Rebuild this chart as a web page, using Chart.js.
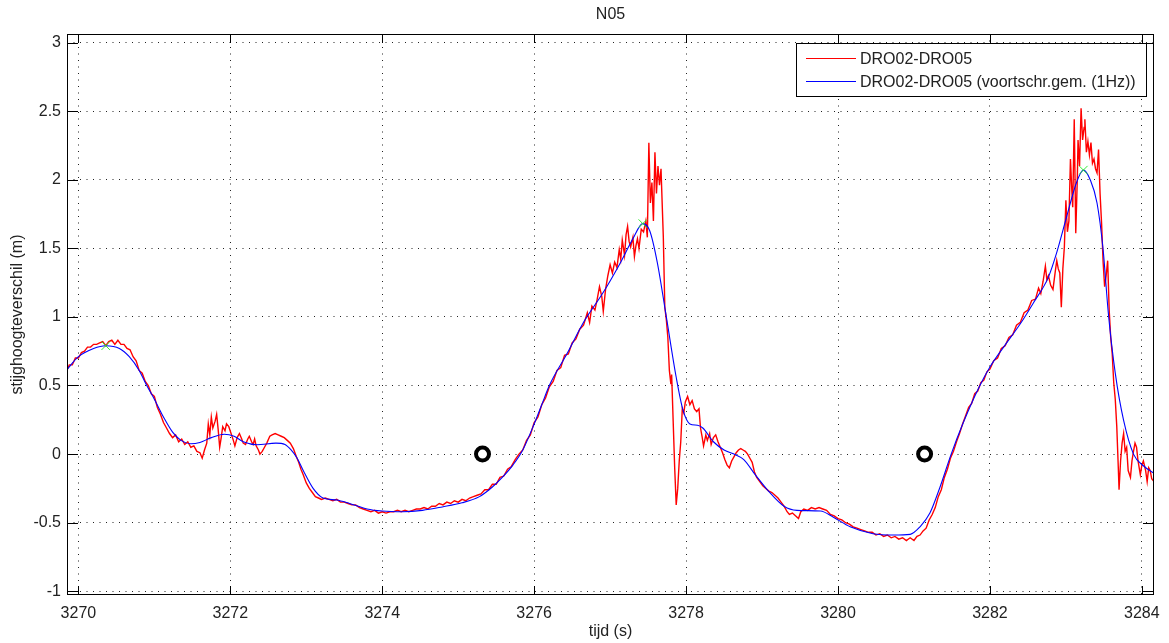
<!DOCTYPE html>
<html>
<head>
<meta charset="utf-8">
<script src="https://cdn.jsdelivr.net/npm/chart.js@4.4.1/dist/chart.umd.min.js"></script>
<style>
  html, body { margin: 0; padding: 0; background: #fff; }
  #wrap { width: 1169px; height: 643px; }
</style>
</head>
<body>
<div id="wrap"><canvas id="c" width="1169" height="643"></canvas></div>
<script>
// tick labels
const xTicks = [3270, 3272, 3274, 3276, 3278, 3280, 3282, 3284];
const yTicks = [-1, -0.5, 0, 0.5, 1, 1.5, 2, 2.5, 3];

// DRO02-DRO05, raw signal
const redT = [
  3269.84, 3269.88, 3269.92, 3269.96, 3270.00, 3270.04, 3270.08, 3270.12, 3270.16, 3270.20,
  3270.24, 3270.28, 3270.32, 3270.36, 3270.40, 3270.44, 3270.48, 3270.52, 3270.56, 3270.60,
  3270.64, 3270.68, 3270.72, 3270.76, 3270.80, 3270.84, 3270.88, 3270.92, 3270.96, 3271.00,
  3271.04, 3271.08, 3271.12, 3271.16, 3271.20, 3271.24, 3271.28, 3271.32, 3271.36, 3271.40,
  3271.44, 3271.48, 3271.52, 3271.56, 3271.60, 3271.63, 3271.66, 3271.69, 3271.71, 3271.73,
  3271.75, 3271.77, 3271.80, 3271.82, 3271.84, 3271.86, 3271.88, 3271.90, 3271.93, 3271.95,
  3271.98, 3272.01, 3272.04, 3272.06, 3272.09, 3272.12, 3272.15, 3272.17, 3272.20, 3272.23,
  3272.25, 3272.28, 3272.30, 3272.32, 3272.34, 3272.37, 3272.39, 3272.42, 3272.45, 3272.48,
  3272.52, 3272.55, 3272.59, 3272.63, 3272.67, 3272.71, 3272.75, 3272.79, 3272.83, 3272.87,
  3272.90, 3272.93, 3272.96, 3273.00, 3273.04, 3273.08, 3273.12, 3273.16, 3273.20, 3273.25,
  3273.30, 3273.35, 3273.40, 3273.45, 3273.50, 3273.55, 3273.60, 3273.65, 3273.70, 3273.75,
  3273.80, 3273.85, 3273.90, 3273.95, 3274.00, 3274.05, 3274.10, 3274.15, 3274.20, 3274.25,
  3274.30, 3274.35, 3274.40, 3274.45, 3274.50, 3274.55, 3274.60, 3274.65, 3274.70, 3274.75,
  3274.80, 3274.85, 3274.90, 3274.95, 3275.00, 3275.05, 3275.10, 3275.15, 3275.20, 3275.25,
  3275.30, 3275.35, 3275.40, 3275.45, 3275.50, 3275.55, 3275.60, 3275.65, 3275.70, 3275.75,
  3275.80, 3275.85, 3275.90, 3275.95, 3276.00, 3276.05, 3276.10, 3276.15, 3276.20, 3276.25,
  3276.30, 3276.35, 3276.40, 3276.45, 3276.50, 3276.55, 3276.60, 3276.65, 3276.70, 3276.73,
  3276.76, 3276.80, 3276.83, 3276.86, 3276.89, 3276.91, 3276.94, 3276.97, 3277.00, 3277.03,
  3277.06, 3277.09, 3277.12, 3277.14, 3277.16, 3277.19, 3277.21, 3277.23, 3277.25, 3277.27,
  3277.30, 3277.32, 3277.34, 3277.36, 3277.38, 3277.41, 3277.44, 3277.47, 3277.49, 3277.51,
  3277.53, 3277.55, 3277.57, 3277.59, 3277.61, 3277.63, 3277.65, 3277.67, 3277.69, 3277.70,
  3277.72, 3277.74, 3277.76, 3277.78, 3277.80, 3277.81, 3277.83, 3277.85, 3277.87, 3277.89,
  3277.91, 3277.93, 3277.95, 3277.97, 3277.99, 3278.02, 3278.05, 3278.08, 3278.11, 3278.14,
  3278.17, 3278.19, 3278.21, 3278.23, 3278.26, 3278.28, 3278.31, 3278.33, 3278.36, 3278.39,
  3278.42, 3278.45, 3278.48, 3278.51, 3278.54, 3278.57, 3278.60, 3278.63, 3278.66, 3278.69,
  3278.72, 3278.75, 3278.78, 3278.81, 3278.84, 3278.87, 3278.90, 3278.93, 3278.97, 3279.01,
  3279.05, 3279.09, 3279.13, 3279.17, 3279.21, 3279.25, 3279.29, 3279.33, 3279.36, 3279.40,
  3279.44, 3279.48, 3279.51, 3279.55, 3279.60, 3279.65, 3279.70, 3279.75, 3279.80, 3279.85,
  3279.90, 3279.95, 3280.00, 3280.05, 3280.10, 3280.15, 3280.20, 3280.25, 3280.30, 3280.35,
  3280.40, 3280.45, 3280.50, 3280.55, 3280.60, 3280.65, 3280.70, 3280.75, 3280.80, 3280.85,
  3280.90, 3280.95, 3281.00, 3281.04, 3281.08, 3281.12, 3281.16, 3281.20, 3281.24, 3281.28,
  3281.32, 3281.36, 3281.40, 3281.44, 3281.48, 3281.52, 3281.56, 3281.60, 3281.64, 3281.68,
  3281.72, 3281.76, 3281.80, 3281.84, 3281.88, 3281.92, 3281.96, 3282.00, 3282.05, 3282.10,
  3282.15, 3282.20, 3282.25, 3282.30, 3282.35, 3282.40, 3282.45, 3282.50, 3282.55, 3282.60,
  3282.64, 3282.67, 3282.70, 3282.73, 3282.75, 3282.77, 3282.80, 3282.83, 3282.86, 3282.88,
  3282.90, 3282.92, 3282.94, 3282.96, 3282.98, 3283.00, 3283.02, 3283.04, 3283.06, 3283.08,
  3283.09, 3283.11, 3283.13, 3283.15, 3283.16, 3283.18, 3283.20, 3283.22, 3283.24, 3283.25,
  3283.27, 3283.29, 3283.31, 3283.33, 3283.35, 3283.37, 3283.39, 3283.41, 3283.43, 3283.45,
  3283.47, 3283.49, 3283.51, 3283.53, 3283.55, 3283.57, 3283.59, 3283.61, 3283.63, 3283.65,
  3283.67, 3283.69, 3283.70, 3283.72, 3283.74, 3283.76, 3283.78, 3283.80, 3283.82, 3283.85,
  3283.87, 3283.89, 3283.91, 3283.93, 3283.95, 3283.98, 3284.00, 3284.02, 3284.05, 3284.07,
  3284.09, 3284.11, 3284.13, 3284.16
];
const redV = [
  0.60, 0.65, 0.65, 0.70, 0.70, 0.74, 0.75, 0.78, 0.78, 0.80,
  0.80, 0.81, 0.82, 0.79, 0.82, 0.83, 0.80, 0.83, 0.80, 0.80,
  0.77, 0.76, 0.71, 0.68, 0.61, 0.59, 0.53, 0.50, 0.44, 0.42,
  0.34, 0.29, 0.23, 0.19, 0.15, 0.12, 0.14, 0.09, 0.11, 0.07,
  0.09, 0.05, 0.06, 0.02, 0.01, -0.03, 0.03, 0.08, 0.22, 0.14,
  0.27, 0.19, 0.24, 0.29, 0.18, 0.05, 0.12, 0.20, 0.17, 0.22,
  0.20, 0.15, 0.10, 0.06, 0.12, 0.15, 0.11, 0.08, 0.07, 0.11,
  0.13, 0.09, 0.07, 0.11, 0.06, 0.03, 0.00, 0.02, 0.05, 0.08,
  0.13, 0.14, 0.15, 0.14, 0.13, 0.12, 0.10, 0.08, 0.04, -0.02,
  -0.06, -0.11, -0.15, -0.21, -0.25, -0.28, -0.31, -0.32, -0.33, -0.32,
  -0.33, -0.34, -0.33, -0.35, -0.35, -0.36, -0.37, -0.37, -0.39, -0.40,
  -0.41, -0.42, -0.41, -0.43, -0.42, -0.43, -0.42, -0.42, -0.41, -0.42,
  -0.41, -0.42, -0.41, -0.40, -0.40, -0.39, -0.40, -0.38, -0.38, -0.36,
  -0.37, -0.35, -0.36, -0.34, -0.35, -0.33, -0.34, -0.32, -0.31, -0.30,
  -0.29, -0.26, -0.26, -0.22, -0.22, -0.17, -0.16, -0.11, -0.09, -0.04,
  0.00, 0.03, 0.10, 0.14, 0.23, 0.27, 0.36, 0.41, 0.49, 0.53,
  0.61, 0.63, 0.72, 0.73, 0.81, 0.84, 0.91, 0.94, 1.03, 0.96,
  1.08, 1.05, 1.13, 1.22, 1.15, 1.04, 1.20, 1.30, 1.38, 1.32,
  1.40, 1.36, 1.49, 1.42, 1.56, 1.45, 1.60, 1.66, 1.55, 1.51,
  1.58, 1.44, 1.52, 1.57, 1.50, 1.64, 1.62, 1.70, 1.58, 2.27,
  1.83, 1.98, 1.70, 2.20, 1.90, 2.10, 1.96, 2.08, 1.75, 1.59,
  1.07, 0.98, 0.85, 0.61, 0.51, 0.58, 0.24, -0.10, -0.37, -0.25,
  -0.05, 0.09, 0.33, 0.30, 0.38, 0.42, 0.36, 0.39, 0.33, 0.31,
  0.33, 0.19, 0.13, 0.06, 0.14, 0.10, 0.15, 0.07, 0.12, 0.14,
  0.09, 0.05, 0.01, -0.04, -0.08, -0.10, -0.05, -0.02, 0.01, 0.03,
  0.04, 0.03, 0.02, 0.00, -0.03, -0.06, -0.13, -0.17, -0.20, -0.23,
  -0.25, -0.27, -0.28, -0.30, -0.32, -0.35, -0.38, -0.42, -0.44, -0.43,
  -0.45, -0.47, -0.42, -0.40, -0.41, -0.39, -0.40, -0.39, -0.40, -0.41,
  -0.44, -0.45, -0.47, -0.48, -0.50, -0.51, -0.53, -0.54, -0.55, -0.56,
  -0.57, -0.57, -0.59, -0.58, -0.60, -0.59, -0.61, -0.60, -0.62, -0.61,
  -0.63, -0.61, -0.63, -0.60, -0.59, -0.56, -0.54, -0.48, -0.44, -0.39,
  -0.31, -0.26, -0.17, -0.11, -0.03, 0.02, 0.09, 0.15, 0.22, 0.28,
  0.34, 0.37, 0.44, 0.46, 0.52, 0.54, 0.60, 0.62, 0.68, 0.70,
  0.77, 0.79, 0.85, 0.87, 0.94, 0.96, 1.03, 1.05, 1.12, 1.13,
  1.21, 1.17, 1.26, 1.37, 1.27, 1.30, 1.23, 1.20, 1.33, 1.41,
  1.35, 1.32, 1.07, 1.35, 1.51, 1.85, 1.62, 1.70, 2.15, 1.90,
  1.80, 2.44, 1.61, 2.00, 2.29, 2.10, 2.52, 2.29, 2.38, 2.44,
  2.20, 2.28, 2.18, 2.27, 2.12, 2.15, 2.08, 2.05, 2.22, 1.90,
  1.68, 1.40, 1.22, 1.30, 1.41, 1.05, 0.85, 0.73, 0.52, 0.40,
  0.20, -0.10, -0.26, -0.05, 0.08, 0.15, 0.02, 0.05, -0.12, -0.17,
  -0.05, 0.02, 0.08, 0.05, -0.05, -0.15, -0.08, -0.05, -0.12, -0.20,
  -0.10, -0.12, -0.18, -0.20
];

// DRO02-DRO05 moving average (1Hz)
const blueT = [
  3269.84, 3270.00, 3270.20, 3270.36, 3270.54, 3270.67, 3270.80, 3270.90, 3271.00, 3271.12,
  3271.24, 3271.35, 3271.48, 3271.60, 3271.75, 3271.92, 3272.05, 3272.17, 3272.35, 3272.60,
  3272.72, 3272.80, 3272.88, 3272.96, 3273.09, 3273.22, 3273.40, 3273.57, 3273.80, 3274.00,
  3274.27, 3274.53, 3274.79, 3275.05, 3275.28, 3275.45, 3275.58, 3275.72, 3275.85, 3276.00,
  3276.10, 3276.20, 3276.43, 3276.66, 3276.90, 3277.13, 3277.30, 3277.43, 3277.52, 3277.62,
  3277.74, 3277.87, 3277.96, 3278.05, 3278.15, 3278.22, 3278.36, 3278.50, 3278.65, 3278.76,
  3278.91, 3279.07, 3279.29, 3279.46, 3279.77, 3279.94, 3280.16, 3280.46, 3280.73, 3280.95,
  3281.08, 3281.21, 3281.34, 3281.49, 3281.65, 3281.85, 3282.00, 3282.18, 3282.40, 3282.57,
  3282.77, 3282.88, 3283.01, 3283.14, 3283.23, 3283.32, 3283.41, 3283.49, 3283.56, 3283.65,
  3283.76, 3283.89, 3284.02, 3284.16
];
const blueV = [
  0.61, 0.71, 0.77, 0.79, 0.77, 0.71, 0.61, 0.50, 0.40, 0.27,
  0.16, 0.10, 0.075, 0.085, 0.12, 0.145, 0.13, 0.09, 0.068, 0.08,
  0.07, 0.03, -0.03, -0.12, -0.25, -0.32, -0.335, -0.36, -0.40, -0.415,
  -0.42, -0.41, -0.385, -0.355, -0.31, -0.24, -0.17, -0.08, 0.03, 0.22,
  0.36, 0.50, 0.73, 0.97, 1.17, 1.39, 1.57, 1.68, 1.63, 1.40,
  1.00, 0.56, 0.32, 0.22, 0.21, 0.19, 0.09, 0.03, -0.005, -0.04,
  -0.15, -0.26, -0.38, -0.41, -0.415, -0.46, -0.53, -0.58, -0.59, -0.585,
  -0.53, -0.43, -0.245, 0.0, 0.23, 0.48, 0.635, 0.78, 0.95, 1.10,
  1.29, 1.47, 1.73, 1.98, 2.07, 2.00, 1.83, 1.49, 1.02, 0.59,
  0.245, 0.0, -0.085, -0.14
];

// peak markers (green x) and reference markers (black rings)
const peakT = [3270.36, 3277.43, 3283.23];
const peakV = [0.79, 1.68, 2.07];
const ringT = [3275.32, 3281.14];
const ringV = [0, 0];

const FONT = '"Liberation Sans", Arial, Helvetica, sans-serif';
const TEXT = '#222';

function pts(ts, vs) {
  return ts.map((t, i) => ({ x: t, y: vs[i] }));
}

class MatlabChart {
  constructor(canvasId) {
    this.canvasId = canvasId;
    this.chart = null;
  }

  // box, inward ticks, legend and titles drawn on top
  framePlugin() {
    return {
      id: 'matlabFrame',
      afterDraw(chart) {
        const { ctx, chartArea: a, scales } = chart;
        const sx = scales.x, sy = scales.y;
        ctx.save();
        ctx.strokeStyle = '#000';
        ctx.lineWidth = 1;
        ctx.beginPath();
        xTicks.forEach(v => {
          const px = Math.round(sx.getPixelForValue(v)) + 0.5;
          ctx.moveTo(px, a.bottom); ctx.lineTo(px, a.bottom - 9);
          ctx.moveTo(px, a.top); ctx.lineTo(px, a.top + 9);
        });
        yTicks.forEach(v => {
          const py = Math.round(sy.getPixelForValue(v)) + 0.5;
          ctx.moveTo(a.left, py); ctx.lineTo(a.left + 11, py);
          ctx.moveTo(a.right, py); ctx.lineTo(a.right - 11, py);
        });
        ctx.stroke();
        ctx.strokeRect(a.left + 0.5, a.top + 0.5, a.width - 1, a.height - 1);

        // legend (red raw signal first, then the average)
        const lx = 796, ly = 43, lw = 350, lh = 53;
        ctx.fillStyle = '#fff';
        ctx.fillRect(lx, ly, lw, lh);
        ctx.strokeRect(lx + 0.5, ly + 0.5, lw, lh);
        ctx.font = '16px ' + FONT;
        ctx.textBaseline = 'middle';
        ctx.textAlign = 'left';
        const items = chart.data.datasets
          .filter(d => d.legendIndex !== undefined)
          .sort((p, q) => p.legendIndex - q.legendIndex);
        items.forEach((d, i) => {
          const yy = 58.5 + i * 23;
          ctx.strokeStyle = d.borderColor;
          ctx.beginPath();
          ctx.moveTo(806, yy); ctx.lineTo(856, yy);
          ctx.stroke();
          ctx.fillStyle = TEXT;
          ctx.fillText(d.label, 860, yy + 1);
        });

        // titles
        ctx.fillStyle = TEXT;
        ctx.textAlign = 'center';
        ctx.fillText('N05', (a.left + a.right) / 2, 15);
        ctx.fillText('tijd (s)', (a.left + a.right) / 2, 632);
        ctx.translate(18, (a.top + a.bottom) / 2);
        ctx.rotate(-Math.PI / 2);
        ctx.fillText('stijghoogteverschil (m)', 0, 0);
        ctx.restore();
      }
    };
  }

  render() {
    const ctx = document.getElementById(this.canvasId);
    if (this.chart) this.chart.destroy();

    const tickFont = { family: FONT, size: 16 };
    this.chart = new Chart(ctx, {
      type: 'scatter',
      data: {
        // lower order is drawn on top
        datasets: [
          { label: 'DRO02-DRO05', data: pts(redT, redV), order: 3, legendIndex: 0,
            showLine: true, borderColor: '#ff0000', borderWidth: 1.4, pointRadius: 0,
            tension: 0 },
          { label: 'DRO02-DRO05 (voortschr.gem. (1Hz))', data: pts(blueT, blueV), order: 2,
            legendIndex: 1, showLine: true, borderColor: '#0000ff', borderWidth: 1.1,
            pointRadius: 0, cubicInterpolationMode: 'monotone' },
          { label: 'peaks', data: pts(peakT, peakV), order: 1, pointStyle: 'crossRot',
            pointRadius: 6, pointBorderWidth: 1, borderColor: '#33ee33', showLine: false },
          { label: 'rings', data: pts(ringT, ringV), order: 0, pointStyle: 'circle',
            pointRadius: 6.5, pointBorderWidth: 4, borderColor: '#000',
            backgroundColor: '#fff', showLine: false }
        ]
      },
      options: {
        responsive: false,
        animation: false,
        devicePixelRatio: 1,
        events: [],
        layout: { padding: { top: 34, right: 15, left: 0, bottom: 0 } },
        plugins: { legend: { display: false }, tooltip: { enabled: false }, title: { display: false } },
        scales: {
          x: {
            type: 'linear', min: 3269.85, max: 3284.16,
            afterBuildTicks: s => { s.ticks = xTicks.map(v => ({ value: v })); },
            afterFit: s => { s.height = 48; },
            grid: { color: '#222', lineWidth: 1, drawTicks: false },
            border: { display: false, dash: [1, 5.5] },
            ticks: { padding: 9, font: tickFont, color: TEXT, maxRotation: 0,
                     autoSkip: false, callback: v => String(v) }
          },
          y: {
            type: 'linear', min: -1.027, max: 3.062,
            afterBuildTicks: s => { s.ticks = yTicks.map(v => ({ value: v })); },
            afterFit: s => { s.width = 67; },
            grid: { color: '#222', lineWidth: 1, drawTicks: false },
            border: { display: false, dash: [1, 5.5] },
            ticks: { padding: 6, font: tickFont, color: TEXT, autoSkip: false,
                     callback: v => String(v) }
          }
        }
      },
      plugins: [this.framePlugin()]
    });
  }
}

new MatlabChart('c').render();
</script>
</body>
</html>
